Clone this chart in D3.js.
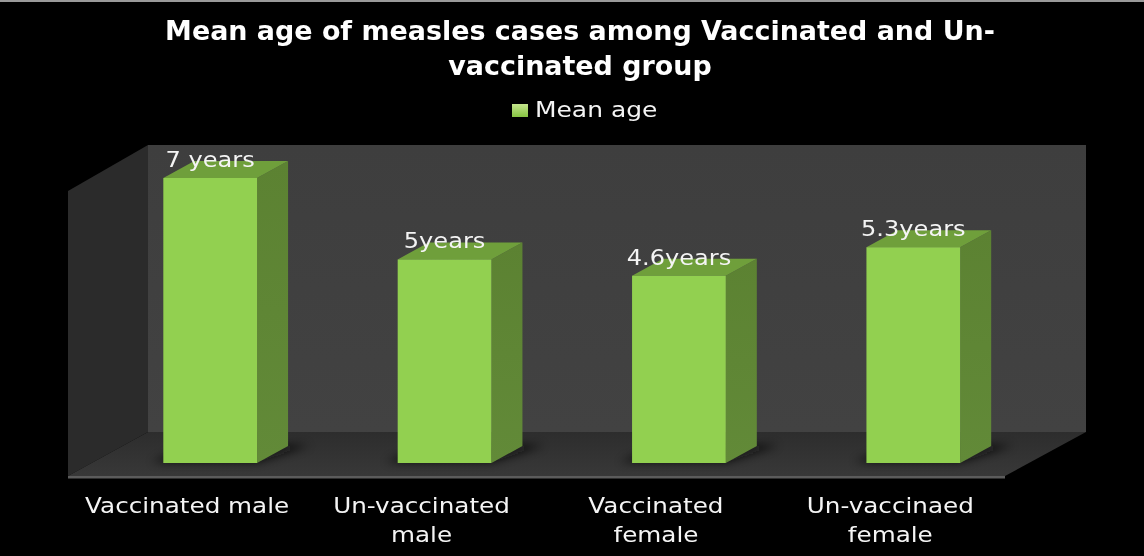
<!DOCTYPE html>
<html><head><meta charset="utf-8">
<script src="https://cdn.jsdelivr.net/npm/d3@7/dist/d3.min.js"></script>
<style>html,body{margin:0;padding:0;background:#000;overflow:hidden}svg{display:block}text{font-family:"DejaVu Sans",sans-serif;fill:#f4f4f4}</style>
</head><body><svg id="c" width="1144" height="556"></svg>
<script>
const titleLines = ["Mean age of measles cases among Vaccinated and Un-", "vaccinated group"];
const legendLabel = "Mean age";
const categories = ["Vaccinated male", "Un-vaccinated male", "Vaccinated female", "Un-vaccinaed female"];
const categoryLines = [["Vaccinated male"], ["Un-vaccinated", "male"], ["Vaccinated", "female"], ["Un-vaccinaed", "female"]];
const values = [7, 5, 4.6, 5.3];
const valueLabels = ["7 years", "5years", "4.6years", "5.3years"];

const W = 1144, H = 556;
const svg = d3.select("#c").attr("viewBox", [0, 0, W, H]);
const defs = svg.append("defs");
defs.append("filter").attr("id", "soft").append("feGaussianBlur").attr("stdDeviation", 0.5);
const sh = defs.append("filter").attr("id", "shadow").attr("x", "-40%").attr("width", "180%").attr("y", "-100%").attr("height", "300%");
sh.append("feGaussianBlur").attr("stdDeviation", 5);
const grad = (id, c0, c1) => { const q = defs.append("linearGradient").attr("id", id).attr("x1", 0).attr("x2", 0).attr("y1", 0).attr("y2", 1);
  q.append("stop").attr("offset", 0).attr("stop-color", c0); q.append("stop").attr("offset", 1).attr("stop-color", c1); };
grad("side", "#5c8232", "#628a38");
grad("leg", "#c4e48c", "#86c442");
grad("floor", "#2d2d2d", "#383838");
grad("wall", "#3e3e3e", "#424242");

const x = d3.scaleBand().domain(categories).range([93, 1030.5]).paddingInner(0.6).paddingOuter(0.3);
const y = d3.scaleLinear().domain([0, 7]).range([463, 178]);
const dx = 31, dy = -17;
const poly = pts => d3.line()(pts) + "Z";
// widen text horizontally, like the stretched reference
const stretch = (sel, k) => sel.each(function () {
  const n = this.getComputedTextLength();
  d3.select(this).attr("textLength", n * k).attr("lengthAdjust", "spacingAndGlyphs");
});

const g = svg.append("g");
const wallL = 68, wallB = 476, floorR = 1005;
const backL = 148, backR = 1086, backT = 145, backB = 432;
g.append("path").attr("d", poly([[wallL,191],[backL,backT],[backL,backB],[wallL,wallB]])).attr("fill", "#2b2b2b");
g.append("rect").attr("x", backL).attr("y", backT).attr("width", backR-backL).attr("height", backB-backT).attr("fill", "url(#wall)");
g.append("path").attr("d", poly([[wallL,wallB],[backL,backB],[backR,backB],[floorR,wallB]])).attr("fill", "url(#floor)");
g.append("rect").attr("x", wallL).attr("y", wallB).attr("width", floorR-wallL).attr("height", 2.5).attr("fill", "#5c5c5c");

const bars = svg.append("g").selectAll("g").data(categories).join("g");
bars.append("path").attr("filter", "url(#shadow)").attr("fill", "#111").attr("opacity", 0.8)
  .attr("d", c => { const l = x(c), r = l + x.bandwidth(), b = y(0);
    return poly([[l-12,b-1],[r,b-1],[r+dx+22,b+dy-1],[l+dx,b+dy-1]]); });
bars.append("path").attr("fill", "url(#side)")
  .attr("d", (c,i) => { const r = x(c)+x.bandwidth(), t = y(values[i]), b = y(0);
    return poly([[r,t],[r+dx,t+dy],[r+dx,b+dy],[r,b]]); });
bars.append("path").attr("fill", "#6f9f3b")
  .attr("d", (c,i) => { const l = x(c), r = l+x.bandwidth(), t = y(values[i]);
    return poly([[l,t],[l+dx,t+dy],[r+dx,t+dy],[r,t]]); });
bars.append("rect").attr("fill", "#92d050")
  .attr("x", c => x(c)).attr("width", x.bandwidth())
  .attr("y", (c,i) => y(values[i])).attr("height", (c,i) => y(0)-y(values[i]));

const t = svg.append("g").attr("filter", "url(#soft)");
t.append("g").selectAll("text").data(titleLines).join("text")
  .attr("x", 580).attr("y", (d,i) => 40 + i*35)
  .attr("text-anchor", "middle").attr("font-size", 26).attr("font-weight", 700)
  .style("fill", "#fff").text(d => d).call(stretch, 1.035);
t.append("rect").attr("x", 512).attr("y", 104).attr("width", 16).attr("height", 13).attr("fill", "url(#leg)");
t.append("text").attr("x", 535).attr("y", 117).attr("font-size", 21.5).text(legendLabel).call(stretch, 1.16);
t.append("g").selectAll("text").data(valueLabels).join("text")
  .attr("x", (d,i) => x(categories[i]) + x.bandwidth()/2)
  .attr("y", (d,i) => y(values[i]) - 11)
  .attr("text-anchor", "middle").attr("font-size", 21.5).text(d => d).call(stretch, 1.12);
const catG = t.append("g").selectAll("g").data(categoryLines).join("g");
catG.selectAll("text").data((d,i) => d.map(s => ({s, i}))).join("text")
  .attr("x", d => x(categories[d.i]) + x.bandwidth()/2 - 23)
  .attr("y", (d,j) => 513 + j*29)
  .attr("text-anchor", "middle").attr("font-size", 22).text(d => d.s).call(stretch, 1.12);
svg.append("rect").attr("width", W).attr("height", 2).attr("fill", "#9a9a9a");
</script></body></html>
